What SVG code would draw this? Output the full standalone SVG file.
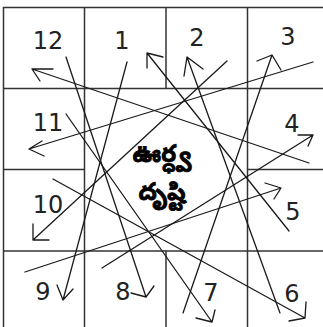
<svg xmlns="http://www.w3.org/2000/svg" width="323" height="327" viewBox="0 0 323 327">
<style>
.grid{stroke:#333;stroke-width:1.5;fill:none}
.c{stroke:#1a1a1a;stroke-width:1.3;fill:none;stroke-linecap:round;stroke-linejoin:round}
.n{font-family:"DejaVu Sans",Verdana,sans-serif;font-size:24px;fill:#222;text-anchor:middle}
.t{font-family:"Noto Sans Telugu","Noto Sans","DejaVu Sans",sans-serif;font-size:24px;font-weight:bold;fill:#000;stroke:#000;stroke-width:0.8;text-anchor:middle}
</style>
<rect width="323" height="327" fill="#fff"/>
<g id="grid" class="grid">
<rect x="3.5" y="7.5" width="326" height="325"/>
<line x1="84.5" y1="7.5" x2="84.5" y2="332"/>
<line x1="247.5" y1="7.5" x2="247.5" y2="332"/>
<line x1="166" y1="7.5" x2="166" y2="88.5"/>
<line x1="166" y1="251" x2="166" y2="332"/>
<line x1="3.5" y1="88.5" x2="329" y2="88.5"/>
<line x1="3.5" y1="251" x2="329" y2="251"/>
<line x1="3.5" y1="169.5" x2="84.5" y2="169.5"/>
<line x1="247.5" y1="169.5" x2="329" y2="169.5"/>
</g>
<g id="h1"><text class="n" x="122" y="49">1</text></g>
<g id="h2"><text class="n" x="197" y="46">2</text></g>
<g id="h3"><text class="n" x="288" y="45">3</text></g>
<g id="h4"><text class="n" x="292" y="132">4</text></g>
<g id="h5"><text class="n" x="293" y="220">5</text></g>
<g id="h6"><text class="n" x="292" y="302">6</text></g>
<g id="h7"><text class="n" x="211" y="301">7</text></g>
<g id="h8"><text class="n" x="123" y="300">8</text></g>
<g id="h9"><text class="n" x="43" y="300">9</text></g>
<g id="h10"><text class="n" x="48" y="213">10</text></g>
<g id="h11"><text class="n" x="48" y="131">11</text></g>
<g id="h12"><text class="n" x="48" y="49">12</text></g>
<g id="center">
<text class="t" x="162" y="162">ఊర్ధ్వ</text>
<text class="t" x="162" y="200">దృష్టి</text>
</g>
<g id="connectors" class="c">
<path d="M309,163 L32,69 M53,69 L32,69 L40,81"/>
<path d="M313,62 L29,149 M42,141 L29,149 L44,156"/>
<path d="M227,61 L33,240 M33,224 L33,240 L49,240"/>
<path d="M127,62 L63,300 M57,285 L63,300 L73,289"/>
<path d="M66,57 L146,297 M131,293 L146,297 L154,286"/>
<path d="M66,114 L212,322 M215,310 L212,322 L196,318"/>
<path d="M53,179 L305,318 M306,302 L305,318 L289,321"/>
<path d="M25,272 L281,188 M265,183 L281,188 L274,199"/>
<path d="M102,268 L313,135 M298,135 L313,135 L308,146"/>
<path d="M183,313 L272,55 M257,61 L272,55 L281,70"/>
<path d="M280,313 L187,57 M184,76 L187,57 L203,69"/>
<path d="M289,231 L147,53 M163,57 L147,53 L147,68"/>
</g>
</svg>
